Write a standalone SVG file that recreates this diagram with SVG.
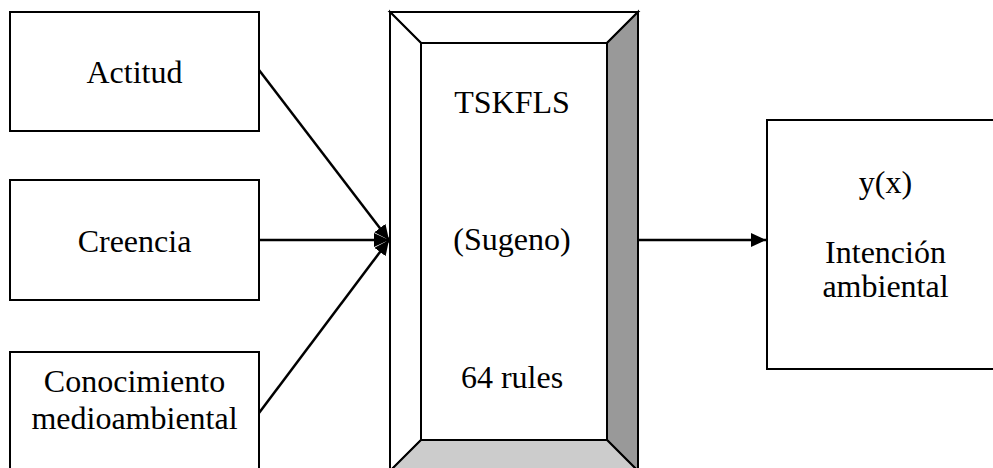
<svg xmlns="http://www.w3.org/2000/svg" width="993" height="468" viewBox="0 0 993 468">
<style>
.box{fill:#fff;stroke:#000;stroke-width:2}
.bev{stroke:#000;stroke-width:2;stroke-linejoin:miter}
.t{font-family:"Liberation Serif","Times New Roman",serif;font-size:32px;fill:#000;text-anchor:middle}
.con{stroke:#000;stroke-width:2.5;fill:none}
</style>
<defs>
<marker id="ah" markerWidth="16" markerHeight="14" refX="15" refY="7" orient="auto" markerUnits="userSpaceOnUse">
<path d="M0,0 L15,7 L0,14 Z" fill="#000"/>
</marker>
</defs>
<rect width="993" height="468" fill="#fff"/>
<g id="actitud">
<rect class="box" x="10" y="12" width="249" height="119"/>
<text class="t" x="134.5" y="83">Actitud</text>
</g>
<g id="creencia">
<rect class="box" x="10" y="180" width="249" height="120"/>
<text class="t" x="134.5" y="252">Creencia</text>
</g>
<g id="conocimiento">
<rect class="box" x="10" y="352" width="249" height="130"/>
<text class="t" x="134.5" y="392">Conocimiento</text>
<text class="t" x="134.5" y="429">medioambiental</text>
</g>
<g id="tskfls">
<polygon class="bev" fill="#fff" points="390,12 638,12 607,43 421,43"/>
<polygon class="bev" fill="#fff" points="390,12 421,43 421,440 390,471"/>
<polygon class="bev" fill="#999" points="638,12 638,471 607,440 607,43"/>
<polygon class="bev" fill="#ccc" points="421,440 607,440 638,471 390,471"/>
<rect class="box" x="421" y="43" width="186" height="397"/>
<text class="t" x="512" y="113">TSKFLS</text>
<text class="t" x="512" y="250">(Sugeno)</text>
<text class="t" x="512" y="388">64 rules</text>
</g>
<g id="salida">
<rect class="box" x="767" y="120" width="240" height="249"/>
<text class="t" x="885.5" y="193">y(x)</text>
<text class="t" x="885.5" y="263">Intención</text>
<text class="t" x="885.5" y="297">ambiental</text>
</g>
<g id="connectors">
<line class="con" x1="259" y1="70" x2="389" y2="240" marker-end="url(#ah)"/>
<line class="con" x1="259" y1="240" x2="389" y2="240" marker-end="url(#ah)"/>
<line class="con" x1="259" y1="413" x2="389" y2="240" marker-end="url(#ah)"/>
<line class="con" x1="638" y1="240" x2="766" y2="240" marker-end="url(#ah)"/>
</g>
</svg>
